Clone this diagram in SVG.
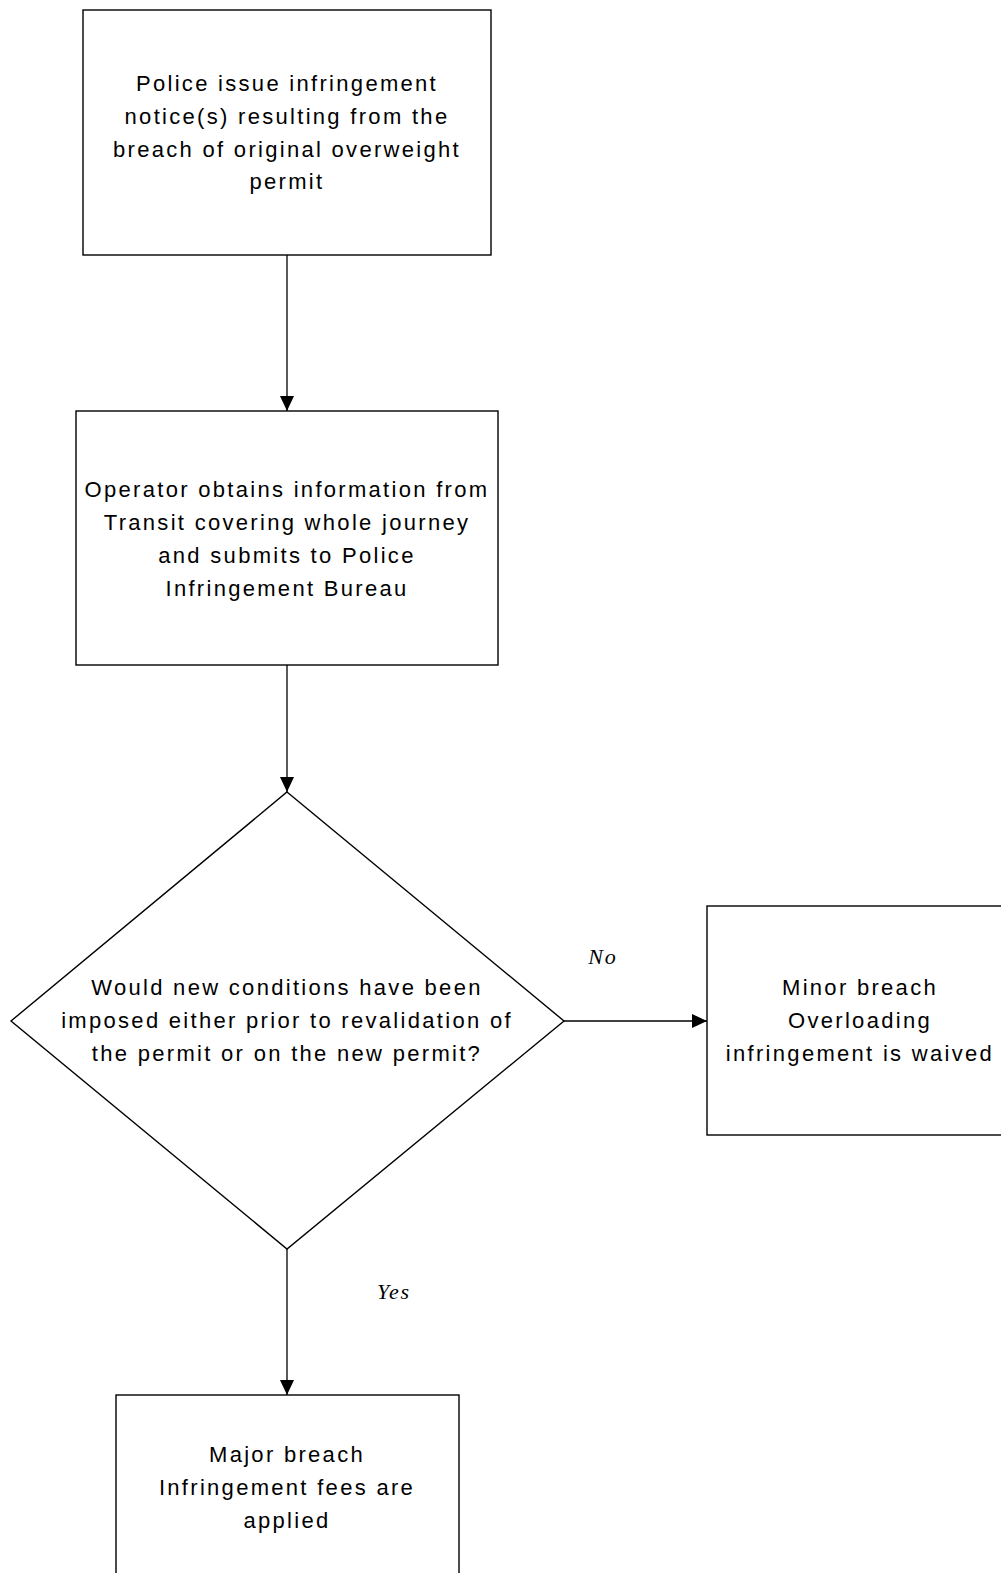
<svg xmlns="http://www.w3.org/2000/svg" width="1001" height="1573" viewBox="0 0 1001 1573">
<style>
  .shape { fill: #fff; stroke: #000; stroke-width: 1.4; }
  .lbl { font-family: "Liberation Sans", Arial, sans-serif; font-size: 22px; letter-spacing: 2.3px; fill: #000; text-anchor: middle; }
  .edge { font-family: "Liberation Serif", "Times New Roman", serif; font-style: italic; font-size: 22px; letter-spacing: 1.8px; fill: #000; text-anchor: middle; }
  .conn { stroke: #000; stroke-width: 1.3; fill: none; }
</style>
<defs>
  <marker id="arr" markerUnits="userSpaceOnUse" markerWidth="16" markerHeight="14" refX="15" refY="7" orient="auto">
    <path d="M0,0 L15,7 L0,14 Z" fill="#000"/>
  </marker>
</defs>
<rect width="1001" height="1573" fill="#fff"/>

<g id="connectors">
  <line class="conn" x1="287" y1="255" x2="287" y2="411" marker-end="url(#arr)"/>
  <line class="conn" x1="287" y1="665" x2="287" y2="792" marker-end="url(#arr)"/>
  <line class="conn" x1="564" y1="1021" x2="707" y2="1021" marker-end="url(#arr)"/>
  <line class="conn" x1="287" y1="1249" x2="287" y2="1395" marker-end="url(#arr)"/>
  <text class="edge" x="603" y="964">No</text>
  <text class="edge" x="394" y="1299">Yes</text>
</g>

<g id="n1">
  <rect class="shape" x="83" y="10" width="408" height="245"/>
  <text class="lbl" x="287" y="91">Police issue infringement</text>
  <text class="lbl" x="287" y="124">notice(s) resulting from the</text>
  <text class="lbl" x="287" y="157">breach of original overweight</text>
  <text class="lbl" x="287" y="189">permit</text>
</g>

<g id="n2">
  <rect class="shape" x="76" y="411" width="422" height="254"/>
  <text class="lbl" x="287" y="497">Operator obtains information from</text>
  <text class="lbl" x="287" y="530">Transit covering whole journey</text>
  <text class="lbl" x="287" y="563">and submits to Police</text>
  <text class="lbl" x="287" y="596">Infringement Bureau</text>
</g>

<g id="n3">
  <polygon class="shape" points="287,792 564,1021 287,1249 11,1021"/>
  <text class="lbl" x="287" y="995">Would new conditions have been</text>
  <text class="lbl" x="287" y="1028">imposed either prior to revalidation of</text>
  <text class="lbl" x="287" y="1061">the permit or on the new permit?</text>
</g>

<g id="n4">
  <rect class="shape" x="707" y="906" width="310" height="229"/>
  <text class="lbl" x="860" y="995">Minor breach</text>
  <text class="lbl" x="860" y="1028">Overloading</text>
  <text class="lbl" x="860" y="1061">infringement is waived</text>
</g>

<g id="n5">
  <rect class="shape" x="116" y="1395" width="343" height="200"/>
  <text class="lbl" x="287" y="1462">Major breach</text>
  <text class="lbl" x="287" y="1495">Infringement fees are</text>
  <text class="lbl" x="287" y="1528">applied</text>
</g>
</svg>
